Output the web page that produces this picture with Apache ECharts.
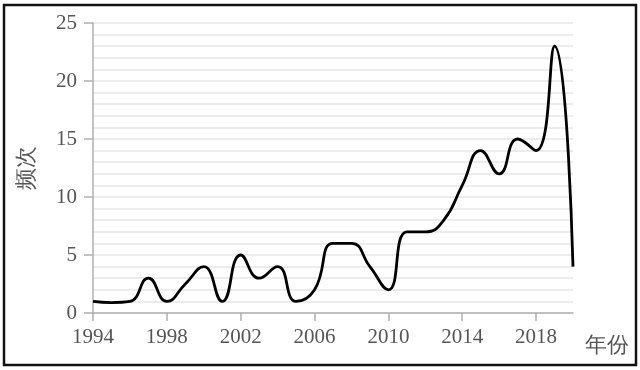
<!DOCTYPE html>
<html><head><meta charset="utf-8">
<script src="https://cdn.jsdelivr.net/npm/echarts@6/dist/echarts.min.js"></script>
<style>html,body{margin:0;padding:0;background:#fff}#c{width:640px;height:370px}</style>
</head><body><div id="c"></div>
<script>
var years = ['1994','1995','1996','1997','1998','1999','2000','2001','2002','2003','2004','2005','2006','2007','2008','2009','2010','2011','2012','2013','2014','2015','2016','2017','2018','2019','2020'];
var freq = [1,0.9,1,3,1,2.5,4,1,5,3,4,1,2,6,6,4,2,7,7,8,11,14,12,15,14,23,4];
var yTicks = [0,5,10,15,20,25];

var chart = echarts.init(document.getElementById('c'), null, {renderer:'canvas'});
var font = '"Liberation Serif","Times New Roman",serif';
chart.setOption({
  animation:false,
  grid:{left:93,right:67,top:23,bottom:57},
  graphic:[{type:'rect',shape:{x:4,y:5,width:632,height:360},style:{fill:'none',stroke:'#111',lineWidth:2.5},z:-1}],
  xAxis:{
    type:'category', data:years, boundaryGap:false,
    name:'年份', nameLocation:'end', nameGap:12,
    nameTextStyle:{fontFamily:font,fontSize:22,color:'#555',verticalAlign:'top',padding:[22,0,0,0]},
    axisLine:{lineStyle:{color:'#b0b0b0',width:1.5}},
    axisTick:{interval:3,length:8,lineStyle:{color:'#b0b0b0',width:1.5}},
    axisLabel:{interval:3,margin:14,fontFamily:font,fontSize:21,color:'#555'},
    splitLine:{show:false}
  },
  yAxis:{
    type:'value', min:yTicks[0], max:yTicks[yTicks.length-1], interval:5,
    name:'频次', nameLocation:'middle', nameGap:55, nameRotate:90,
    nameTextStyle:{fontFamily:font,fontSize:22,color:'#555'},
    axisLine:{show:true,lineStyle:{color:'#b0b0b0',width:1.5}},
    axisTick:{show:true,length:9,lineStyle:{color:'#b0b0b0',width:1.5}},
    axisLabel:{margin:16,fontFamily:font,fontSize:21,color:'#555'},
    splitLine:{show:true,lineStyle:{color:'#ececec',width:2}},
    minorTick:{show:false,splitNumber:5},
    minorSplitLine:{show:true,lineStyle:{color:'#ececec',width:2}}
  },
  series:[{
    type:'line', data:freq, smooth:0.5, symbol:'none',
    lineStyle:{color:'#000',width:2.8}
  }]
});
</script></body></html>
